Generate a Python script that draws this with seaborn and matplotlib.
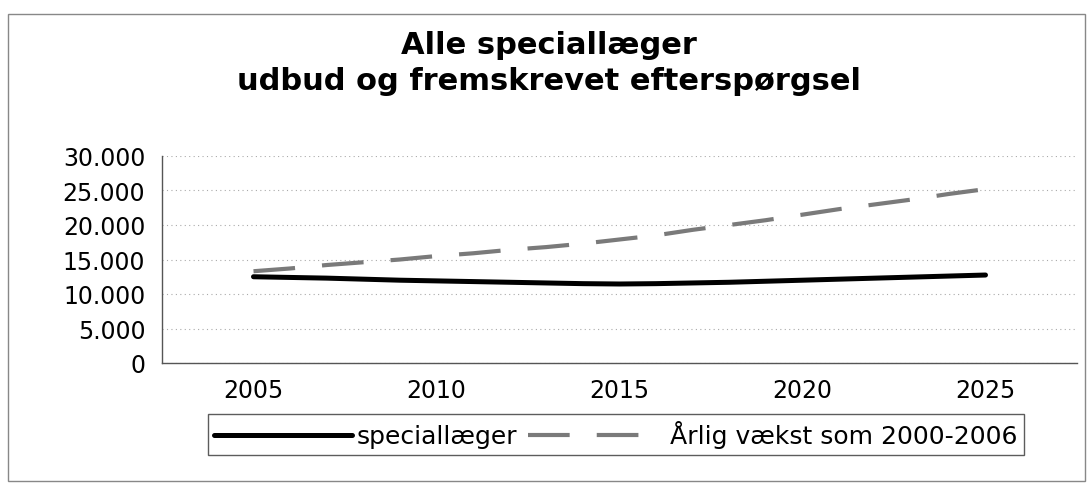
import matplotlib
matplotlib.use('Agg')
import matplotlib.pyplot as plt
import seaborn as sns
from matplotlib.patches import Rectangle
from matplotlib.lines import Line2D

# data
years = list(range(2005, 2026))
speciallaeger = [12500, 12400, 12300, 12150, 12000, 11900, 11800, 11700, 11600, 11500, 11450,
                 11500, 11600, 11700, 11850, 12000, 12150, 12300, 12450, 12600, 12750]
vaekst = [13300, 13700, 14200, 14600, 15000, 15500, 15900, 16400, 16800, 17300, 17900,
          18500, 19300, 20000, 20700, 21500, 22300, 23000, 23700, 24500, 25200]
label_years = [2005, 2010, 2015, 2020, 2025]
xtick_labels = ['2005', '2010', '2015', '2020', '2025']
ytick_vals = [0, 5000, 10000, 15000, 20000, 25000, 30000]
series_names = ['speciallæger', 'Årlig vækst som 2000-2006']

sns.set_style('white')
plt.rcParams['font.family'] = ['DejaVu Sans']
plt.rcParams['text.color'] = 'black'
plt.rcParams['xtick.color'] = 'black'
plt.rcParams['ytick.color'] = 'black'

fig = plt.figure(figsize=(10.91, 4.85), dpi=100)
ax = fig.add_axes([162 / 1091, 1 - 364 / 485, 915 / 1091, 207 / 485])

sns.lineplot(x=years, y=speciallaeger, ax=ax, color='black', lw=3.6, legend=False)
sns.lineplot(x=years, y=vaekst, ax=ax, color='#7a7a7a', lw=3.0,
             linestyle=(0, (10, 6.5)), legend=False)

ax.set_xlim(2002.5, 2027.5)
ax.set_ylim(0, 30000)
ax.set_xticks(label_years)
ax.set_xticklabels(xtick_labels, fontsize=17)
ax.set_xticks([y + 2.5 for y in label_years], minor=True)
ax.tick_params(axis='x', which='major', length=0, pad=11)
ax.tick_params(axis='x', which='minor', length=5, width=0.8, direction='out', color='#555555')
ax.set_yticks(ytick_vals)
ax.set_yticklabels([f'{v:,}'.replace(',', '.') for v in ytick_vals], fontsize=17)
ax.tick_params(axis='y', length=6, width=0.8, direction='out', pad=6, color='#555555')
ax.set_xlabel('')
ax.set_ylabel('')

ax.yaxis.grid(True, linestyle=(0, (1, 3)), color='#aaaaaa', lw=0.8)
ax.xaxis.grid(False)
for s in ['top', 'right']:
    ax.spines[s].set_visible(False)
for s in ['left', 'bottom']:
    ax.spines[s].set_color('#555555')
    ax.spines[s].set_linewidth(1)

fig.text(549 / 1091, 1 - 46 / 485, 'Alle speciallæger', ha='center', va='center',
         fontsize=22, fontweight='bold')
fig.text(549 / 1091, 1 - 81 / 485, 'udbud og fremskrevet efterspørgsel', ha='center',
         va='center', fontsize=22, fontweight='bold')

handles = [Line2D([], [], color='black', lw=3.6),
           Line2D([], [], color='#7a7a7a', lw=3.0, linestyle=(0, (10, 6.5)))]
leg = fig.legend(handles, series_names, loc='center', bbox_to_anchor=(616 / 1091, 1 - 435.5 / 485),
                 ncol=2, frameon=True, fancybox=False, edgecolor='#333333', fontsize=18,
                 handlelength=5.5, handletextpad=0.2, columnspacing=0.4, borderpad=0.25)
leg.get_frame().set_linewidth(1)

fig.patches.append(Rectangle((8 / 1091, 1 - 482 / 485), 1077 / 1091, 467 / 485,
                             transform=fig.transFigure, fill=False, edgecolor='#888888', lw=1))

fig.savefig('out.png', dpi=100)
